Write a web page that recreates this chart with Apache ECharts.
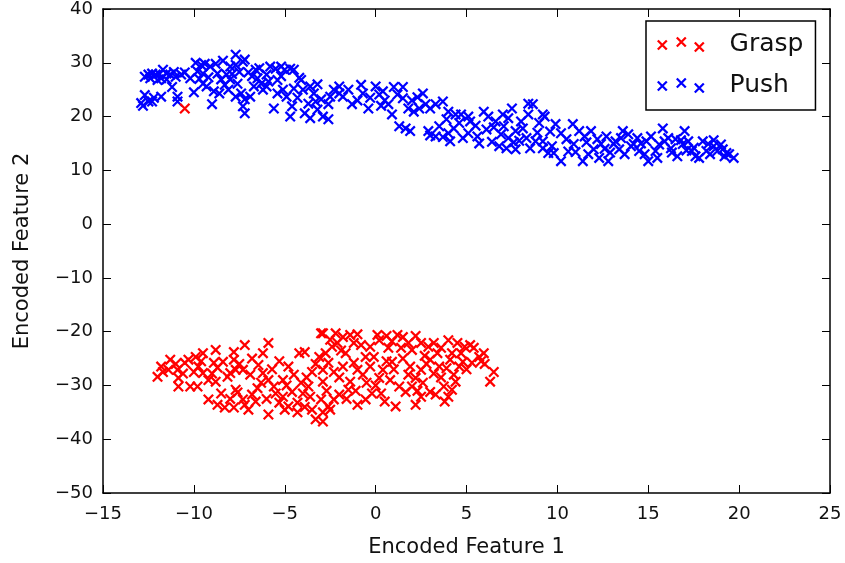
<!DOCTYPE html>
<html><head><meta charset="utf-8">
<script src="https://cdn.jsdelivr.net/npm/echarts@6/dist/echarts.min.js"></script>
<style>html,body{margin:0;padding:0;background:#fff}#c{width:845px;height:563px}</style>
</head><body><div id="c"></div>
<script>
const seriesNames = ['Grasp', 'Push'];
const graspPoints = [
[-10.5,21.5],
[-12.0,-28.4],[-11.7,-27.5],[-11.3,-25.2],[-11.4,-27.1],[-10.9,-27.1],[-10.85,-28.6],[-10.85,-30.2],[-10.5,-25.8],[-10.3,-25.2],[-10.2,-30.2],
[-9.9,-24.7],[-9.8,-30.2],[-9.75,-26.5],[-9.5,-24.0],[-9.5,-27.7],[-8.8,-23.4],[-8.9,-25.8],[-8.7,-26.7],[-8.8,-29.3],[-8.4,-25.6],
[-7.8,-23.8],[-7.8,-25.2],[-7.7,-27.1],[-8.0,-27.7],[-7.2,-22.5],[-7.3,-27.1],[-8.15,-28.4],[-7.7,-30.8],[-7.6,-31.3],[-9.2,-32.6],
[-8.7,-33.6],[-8.3,-34.1],[-7.8,-34.1],[-7.3,-32.6],[-7.2,-33.6],[-6.8,-31.7],[-6.6,-33.0],[-7.0,-34.5],[-6.45,-26.2],[-6.2,-24.0],
[-5.9,-22.1],[-6.2,-27.7],[-5.9,-29.0],[-5.6,-30.2],[-5.1,-29.0],[-4.8,-26.5],[-5.9,-35.4],[-5.3,-33.2],[-5.1,-32.1],[-4.6,-31.2],
[-4.8,-33.9],[-4.3,-33.2],[-4.2,-24.0],[-3.9,-23.8],[-4.3,-35.0],[-3.7,-30.2],[-3.6,-32.1],[-3.5,-34.5],[-3.3,-36.3],[-3.1,-24.7],
[-3.0,-20.3],[-2.9,-27.1],[-3.0,-32.6],[-2.9,-35.0],
[-2.9,-20.3],[-2.75,-24.0],[-2.9,-29.3],[-2.6,-25.8],[-2.6,-33.9],[-2.9,-36.7],[-2.2,-20.3],[-2.1,-22.1],[-1.8,-21.0],[-1.4,-20.6],
[-1.2,-22.1],[-0.8,-22.5],[-1.65,-24.0],[-1.2,-25.8],[-1.0,-27.1],[-1.4,-29.3],[-1.5,-30.8],[-2.0,-31.7],[-2.3,-32.6],[-2.5,-34.5],
[-1.0,-33.6],[-0.55,-32.6],[-0.55,-24.7],[-0.1,-24.7],[0.1,-20.6],[0.2,-21.6],[0.7,-23.0],[0.2,-28.6],[0.4,-27.1],[0.8,-29.0],
[0.9,-25.6],[1.2,-20.6],[1.5,-21.0],[1.8,-22.1],[2.0,-23.4],[1.3,-30.2],[1.65,-31.2],[1.1,-33.9],[2.0,-30.2],[2.2,-28.6],
[2.5,-27.1],[2.5,-22.1],[2.9,-22.8],[3.2,-22.1],[3.4,-24.0],[3.0,-25.2],[3.5,-26.5],[2.6,-29.5],[3.0,-31.2],[2.5,-32.1],
[2.2,-33.6],[3.3,-31.7],[3.75,-30.2],[4.0,-21.6],[4.0,-32.1],[4.1,-25.2],[4.2,-24.0],[4.5,-22.1],[4.7,-24.0],[4.6,-26.5],
[4.4,-29.3],[4.8,-25.6],[5.4,-23.0],[5.7,-24.7],[5.95,-24.0],[6.5,-27.5],[6.3,-29.3],
[-11.0,-26.0],[-10.0,-27.5],[-9.0,-27.8],[-6.9,-28.0],[-6.5,-30.5],[-5.5,-31.5],[-5.0,-34.5],[-4.0,-31.5],[-3.8,-28.5],[-3.3,-26.0],
[-2.3,-27.5],[-1.8,-26.5],[-0.5,-29.5],[-0.2,-31.5],[0.5,-33.0],[1.0,-27.0],[1.5,-25.0],[1.8,-28.0],[2.8,-26.0],[3.6,-28.5],
[3.8,-33.0],[4.3,-28.0],[5.0,-27.0],[5.2,-22.5],[-0.3,-22.8],[0.6,-20.8],[-1.0,-20.5],[-2.4,-22.8],[-4.5,-28.0],[-6.0,-32.5],
[-11.8,-26.5],[-10.6,-27.8],[-9.6,-25.5],[-9.2,-29.0],[-8.5,-31.5],[-8.0,-32.5],[-7.5,-26.0],[-6.8,-25.0],[-6.3,-29.5],[-5.7,-27.0],
[-5.3,-25.5],[-4.9,-30.0],[-4.1,-29.5],[-3.9,-34.0],[-3.5,-27.5],[-2.7,-31.0],[-2.0,-28.5],[-1.6,-32.5],[-1.1,-31.0],[-0.7,-28.0],
[-0.3,-26.5],[0.3,-31.5],[0.6,-25.5],[1.4,-23.0],[1.9,-26.5],[2.3,-31.0],[2.7,-24.5],[3.2,-27.8],[3.6,-23.0],[3.9,-26.8],
[4.2,-30.8],[4.9,-22.8],[5.3,-25.8],[5.8,-25.5],[6.0,-26.0],[0.0,-30.0],[-2.5,-21.5],[-1.9,-23.5],[0.9,-21.8],[2.2,-20.8]
];
const pushPoints = [
[-12.5,27.8],[-12.3,28.0],[-12.1,27.8],[-12.7,27.4],[-12.4,27.1],[-11.7,28.7],[-11.5,28.0],[-11.3,27.8],[-11.0,27.4],[-11.8,27.1],
[-11.5,26.9],[-12.7,24.0],[-12.5,22.8],[-12.8,22.0],[-12.9,22.5],[-12.3,22.8],[-11.8,23.7],[-10.9,23.7],[-10.9,22.8],
[-10.2,27.1],[-9.9,30.0],[-9.6,29.6],[-9.4,29.8],[-9.1,29.3],[-9.8,28.4],[-9.5,28.0],[-9.5,26.1],[-9.3,25.6],[-9.0,22.3],
[-8.9,24.7],[-8.7,28.0],[-8.5,26.9],[-8.6,24.3],[-8.3,25.9],[-7.7,31.5],[-8.0,29.3],[-7.7,29.6],[-7.3,30.2],[-7.2,30.6],
[-8.0,26.9],[-7.6,26.1],[-8.1,25.0],[-7.4,24.3],[-7.7,23.7],[-7.2,23.2],[-7.3,21.9],[-7.2,20.6],[-6.9,23.7],[-6.7,25.6],
[-6.6,28.7],[-6.5,27.1],[-6.3,26.1],[-6.2,25.0],[-6.0,25.6],[-5.8,29.3],[-5.5,28.9],[-5.2,29.3],[-5.0,28.7],[-4.7,28.9],
[-4.5,28.7],[-5.6,21.5],[-5.4,24.3],[-5.1,25.0],[-4.9,23.7],[-4.5,25.2],[-4.6,21.9],[-4.7,20.0],[-4.0,25.0],[-3.6,25.6],
[-3.4,24.3],[-3.7,22.4],[-3.9,20.6],[-3.6,19.7],[-3.2,21.3],[-2.9,20.0],[-2.6,22.3],[-2.5,23.7],[-2.3,25.0],[-2.6,19.5],
[-2.0,25.6],[-1.8,23.7],[-1.3,22.3],[-0.8,25.9],[-0.7,24.3],[-0.4,21.5],[0.0,25.6],[0.2,24.1],[0.4,24.7],[0.7,22.3],
[0.9,20.4],[1.2,24.1],[1.5,23.4],[1.3,18.2],[1.65,17.8],[1.9,17.3],[1.8,21.5],[2.1,20.9],[2.6,24.3],[2.75,22.3],
[3.0,21.5],[3.3,22.3],[3.7,22.8],[4.0,20.9],[2.9,17.3],[3.3,16.3],[4.0,16.9],[4.1,15.4],[4.4,20.4],[4.7,20.4],
[5.1,20.0],[5.2,19.1],[4.8,16.0],[5.1,16.9],[5.7,15.0],[5.95,20.9],[6.2,20.0],[6.1,17.6],[6.6,19.1],[7.0,20.4],
[7.3,19.7],[7.05,18.2],[6.9,16.7],[7.3,16.0],[7.2,14.1],[7.7,13.9],[7.7,17.3],[8.0,19.1],[8.4,22.4],[8.65,22.3],
[8.4,20.4],[8.3,16.0],[8.5,14.1],[8.8,15.4],[9.0,18.8],[9.2,20.4],[9.2,14.1],
[9.3,20.0],[9.2,15.4],[9.5,13.2],[9.9,18.6],[10.2,16.9],[9.8,13.2],[10.2,11.7],[10.85,18.6],[10.9,14.9],[11.2,17.3],
[11.5,16.3],[11.4,11.7],[11.85,17.3],[12.0,13.9],[11.7,13.0],[12.2,15.8],[12.4,14.9],[12.3,12.3],[12.7,16.3],[12.8,11.7],
[13.1,14.9],[13.2,15.4],[13.4,13.9],[13.6,17.3],[13.7,13.0],[13.9,16.7],[14.05,14.5],[14.4,16.0],[14.6,15.0],[14.5,13.6],
[14.9,15.4],[15.0,11.7],[15.15,16.3],[15.4,13.6],[15.5,12.3],[15.8,17.8],[15.9,15.4],[16.1,16.0],[16.25,14.1],[16.5,15.8],
[16.6,12.6],[17.0,17.3],[16.9,14.9],[17.2,15.4],[17.4,13.6],[17.6,12.6],[17.8,12.3],[18.0,15.4],[18.3,14.9],[18.2,13.6],
[18.6,14.5],[18.8,13.6],[19.1,13.9],[19.2,12.6],[19.45,13.0],[19.7,12.3],[19.3,13.2],
[-12.0,26.8],[-11.2,25.5],[-10.5,28.2],[-10.0,24.5],[-8.2,27.8],[-6.8,27.5],[-6.0,27.8],[-5.4,26.8],[-4.2,27.2],[-3.2,26.0],
[-3.0,23.2],[-1.5,25.0],[-0.3,23.5],[0.5,23.0],[1.0,25.5],[2.3,23.6],[3.5,18.2],[3.7,16.2],[4.3,17.8],[5.5,18.3],
[6.4,15.3],[7.5,21.5],[7.9,15.5],[9.6,17.2],[10.5,15.8],[11.0,13.4],[12.6,14.0],[14.2,14.9],[15.6,14.8],[16.8,15.6],
[17.5,14.2],[18.6,15.6],
[-12.2,23.5],[-11.9,27.9],[-11.1,28.3],[-10.7,27.8],[-9.7,27.0],[-9.2,27.3],[-8.8,29.8],[-8.4,30.4],[-7.9,27.9],[-7.5,28.3],
[-7.0,28.2],[-6.4,29.0],[-5.9,26.5],[-5.2,27.5],[-4.3,23.5],[-4.1,26.8],[-3.3,22.8],[-2.0,24.3],[-1.0,23.0],[0.3,22.0],
[1.5,25.5],[2.0,23.0],[2.4,21.5],[3.0,16.5],[3.9,19.5],[4.6,18.8],[5.6,16.3],[6.5,18.0],[6.8,14.5],[7.6,15.2],
[8.1,17.8],[8.9,17.0],[9.7,14.5],[10.6,13.5],[11.6,15.2],[12.9,13.3],[13.5,16.0],[14.8,13.0],[16.3,13.3],[17.1,13.7],
[18.4,13.0],[19.0,14.8]
];
const xTicks = [-15, -10, -5, 0, 5, 10, 15, 20, 25];
const yTicks = [-50, -40, -30, -20, -10, 0, 10, 20, 30, 40];
const colors = ['#ff0000', '#0000ff'];

function crossPath(cx, cy, a, d) {
  const p = (x, y) => (cx + x).toFixed(2) + ' ' + (cy + y).toFixed(2);
  return 'M' + p(-a + d, -a - d) + 'L' + p(a + d, a - d) + 'L' + p(a - d, a + d) + 'L' + p(-a - d, -a + d) + 'Z' +
         'M' + p(a + d, -a + d) + 'L' + p(-a + d, a + d) + 'L' + p(-a - d, a - d) + 'L' + p(a - d, -a - d) + 'Z';
}
const markerPath = 'path://' + crossPath(6, 6, 5, 0.85);
const legendIcon = 'path://' + crossPath(6, 9, 4.5, 0.8) + crossPath(25, 6, 4.5, 0.8) + crossPath(43, 11, 4.5, 0.8);

const FONT = 'DejaVu Sans';
const fmt = v => String(v).replace('-', '\u2212');
const frameLine = { onZero: false, lineStyle: { color: '#000', width: 1.5 } };
const tick = { show: true, inside: true, length: 8, lineStyle: { color: '#000', width: 1 } };

function xAxisDef(pos, main) {
  return {
    type: 'value', position: pos, gridIndex: 0,
    min: xTicks[0], max: xTicks[xTicks.length - 1], interval: xTicks[1] - xTicks[0],
    axisLine: frameLine, axisTick: tick, splitLine: { show: false },
    axisLabel: { show: main, fontSize: 18, color: '#111', fontFamily: FONT, margin: 12, formatter: fmt },
    name: main ? 'Encoded Feature 1' : '', nameLocation: 'middle', nameGap: 44,
    nameTextStyle: { fontSize: 21, color: '#111', fontFamily: FONT }
  };
}
function yAxisDef(pos, main) {
  return {
    type: 'value', position: pos, gridIndex: 0,
    min: yTicks[0], max: yTicks[yTicks.length - 1], interval: yTicks[1] - yTicks[0],
    axisLine: frameLine, axisTick: tick, splitLine: { show: false },
    axisLabel: { show: main, fontSize: 18, color: '#111', fontFamily: FONT, margin: 10, formatter: fmt },
    name: main ? 'Encoded Feature 2' : '', nameLocation: 'middle', nameGap: 70,
    nameTextStyle: { fontSize: 21, color: '#111', fontFamily: FONT }
  };
}

const chart = echarts.init(document.getElementById('c'), null, { renderer: 'canvas' });
chart.setOption({
  animation: false,
  backgroundColor: '#fff',
  grid: { left: 103, right: 15, top: 8, bottom: 70 },
  xAxis: [xAxisDef('bottom', true), xAxisDef('top', false)],
  yAxis: [yAxisDef('left', true), yAxisDef('right', false)],
  legend: {
    orient: 'vertical', left: 646, top: 21,
    padding: [11, 12, 12, 11], itemGap: 16,
    itemWidth: 47.6, itemHeight: 15.6,
    backgroundColor: '#fff', borderColor: '#000', borderWidth: 1.5,
    textStyle: { fontSize: 25, color: '#111', fontFamily: FONT, padding: [0, 0, 0, 20] },
    data: seriesNames.map(n => ({ name: n, icon: legendIcon }))
  },
  series: [
    { name: seriesNames[0], type: 'scatter', data: graspPoints, symbol: markerPath, symbolSize: 11,
      itemStyle: { color: colors[0], opacity: 1 }, z: 3 },
    { name: seriesNames[1], type: 'scatter', data: pushPoints, symbol: markerPath, symbolSize: 11,
      itemStyle: { color: colors[1], opacity: 1 }, z: 2 }
  ]
});
</script>
</body></html>
